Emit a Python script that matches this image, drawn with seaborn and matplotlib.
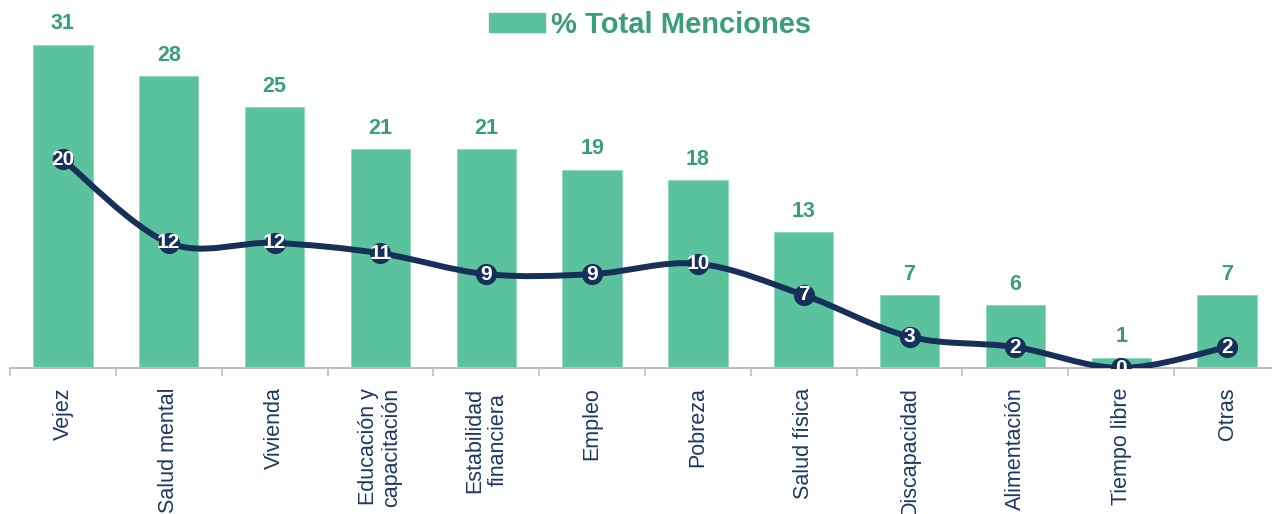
import seaborn as sns
import matplotlib.pyplot as plt
import matplotlib.patches as mpatches
from matplotlib.path import Path
import numpy as np
import pandas as pd

# data
categorias = ['Vejez', 'Salud mental', 'Vivienda', 'Educación y\ncapacitación',
              'Estabilidad\nfinanciera', 'Empleo', 'Pobreza', 'Salud física',
              'Discapacidad', 'Alimentación', 'Tiempo libre', 'Otras']
total_menciones = [31, 28, 25, 21, 21, 19, 18, 13, 7, 6, 1, 7]
primera_mencion = [20, 12, 12, 11, 9, 9, 10, 7, 3, 2, 0, 2]

verde = '#5BC29E'
verde_txt = '#3A9E7A'
azul = '#17305A'

sns.set_style("white")
plt.rcParams['font.family'] = ['Liberation Sans', 'DejaVu Sans']

df = pd.DataFrame({'cat': categorias, 'total': total_menciones, 'primera': primera_mencion})

fig = plt.figure(figsize=(12.72, 5.14), dpi=100)
ax = fig.add_axes([10 / 1272, 146 / 514, 1270 / 1272, 365 / 514])

sns.barplot(x='cat', y='total', data=df, color=verde, width=0.56, ax=ax,
            saturation=1, edgecolor='#8FD8BE', linewidth=0.6)

# smoothed line (Catmull-Rom -> bezier, like Excel smoothing)
xs = np.arange(len(df))
ys = df['primera'].to_numpy(dtype=float)
pts = np.column_stack([xs, ys])
ext = np.vstack([pts[0], pts, pts[-1]])
verts = [pts[0]]
codes = [Path.MOVETO]
for i in range(len(pts) - 1):
    p0, p1, p2, p3 = ext[i], ext[i + 1], ext[i + 2], ext[i + 3]
    c1 = p1 + (p2 - p0) / 6
    c2 = p2 - (p3 - p1) / 6
    verts += [c1, c2, p2]
    codes += [Path.CURVE4] * 3
ax.add_patch(mpatches.PathPatch(Path(verts, codes), facecolor='none',
                                edgecolor=azul, lw=4.3, capstyle='round', zorder=3))
sns.scatterplot(x=xs, y=ys, ax=ax, s=200, color=azul, edgecolor=azul, zorder=4, legend=False)

for i, (t, p) in enumerate(zip(total_menciones, primera_mencion)):
    ax.text(i, t + 2.0, str(t), ha='center', va='center', color=verde_txt,
            fontsize=15.5, fontweight='bold')
    ax.text(i, p, str(p), ha='center', va='center', color='white',
            fontsize=15, fontweight='bold', zorder=5)

ax.set_xlim(-0.5, 11.5)
ax.set_ylim(0, 35)
ax.set_xlabel('')
ax.set_ylabel('')
ax.set_yticks([])
for s in ['top', 'right', 'left']:
    ax.spines[s].set_visible(False)
ax.spines['bottom'].set_color('#BFBFBF')
ax.spines['bottom'].set_linewidth(1.5)

ax.set_xticks(xs)
ax.set_xticklabels(categorias, rotation=90, fontsize=15.5, color='#1F3864',
                   linespacing=1.15)
ax.tick_params(axis='x', which='major', length=0, pad=14)
ax.set_xticks(np.arange(-0.5, 12, 1), minor=True)
ax.tick_params(axis='x', which='minor', length=6, width=1.2, color='#BFBFBF',
               direction='out', bottom=True)

# legend
leg = fig.legend(handles=[mpatches.Patch(color=verde, label='% Total Menciones')],
                 loc='center', bbox_to_anchor=(650 / 1272, 1 - 25 / 514), frameon=False,
                 prop={'size': 21, 'weight': 'bold'}, handlelength=1.9, handleheight=0.65,
                 handletextpad=0.2)
for t in leg.get_texts():
    t.set_color(verde_txt)

fig.savefig('out.png', dpi=100)
